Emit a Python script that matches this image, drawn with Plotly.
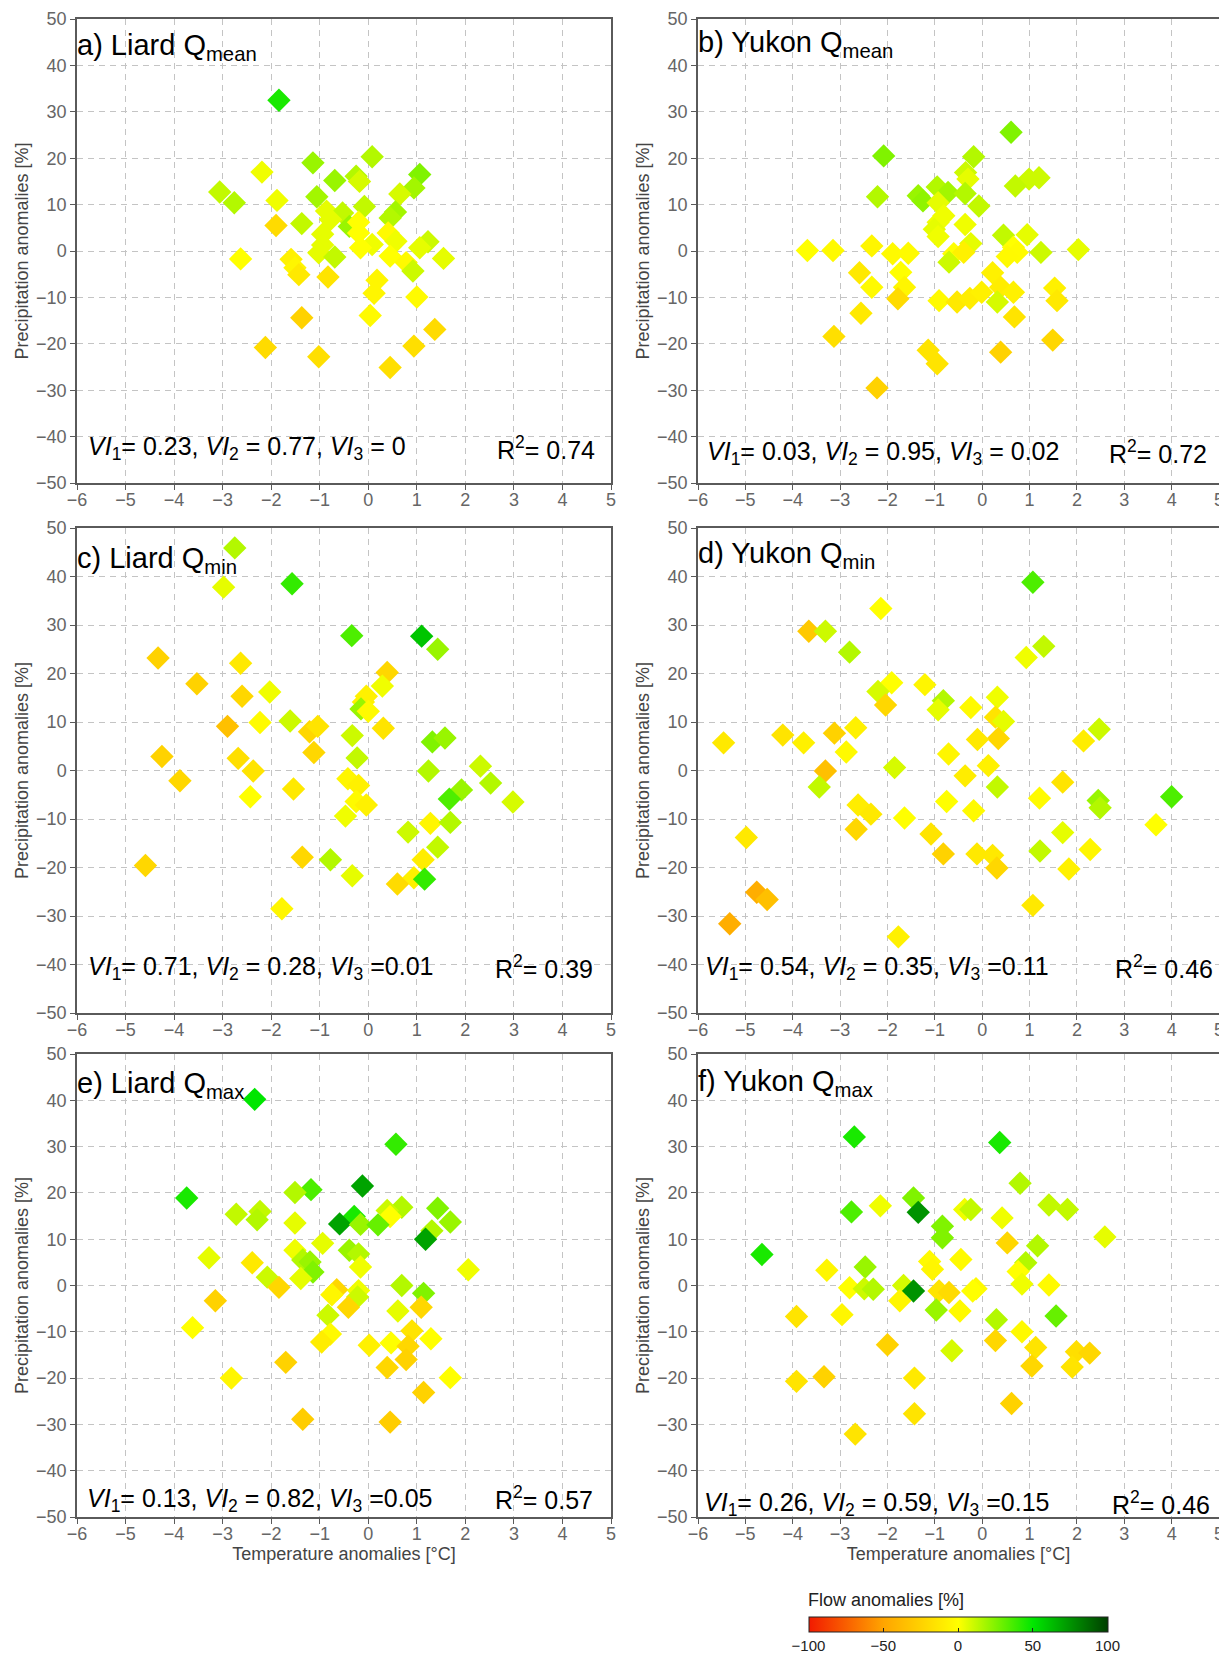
import plotly.graph_objects as go

# ---------------- data ----------------
# a) Liard Qmean
liard_mean_temp = [-1.84, 0.08, -1.14, -2.19, -0.25, 1.06, -0.69, -0.18, -3.06, 0.94, 0.65, -2.76, -1.88, -1.06,
                   -0.08, -0.86, -0.53, 0.56, 0.45, -1.90, -1.37, -0.78, -0.39, -0.20, -0.94, -0.20, 0.41, 1.23,
                   -0.94, 0.08, -0.16, 0.57, 1.06, -1.02, -0.69, -2.63, 0.45, 1.55, -1.59, 0.78, 0.92, -1.51,
                   -1.43, -0.83, 0.18, 0.12, 1.00, 0.04, -1.37, 1.37, -2.12, 0.94, -1.02, 0.45]
liard_mean_precip = [32.5, 20.3, 19.0, 17.0, 16.1, 16.5, 15.2, 15.0, 12.7, 13.6, 12.3, 10.4, 10.9, 11.7,
                     9.6, 8.6, 8.2, 8.4, 7.1, 5.5, 5.9, 6.8, 5.3, 6.2, 3.6, 3.9, 3.9, 2.0,
                     1.3, 1.4, 0.7, 2.1, 0.7, -0.4, -1.3, -1.7, -1.1, -1.6, -1.8, -2.5, -4.3, -3.6,
                     -5.1, -5.6, -6.3, -9.1, -9.9, -13.9, -14.4, -16.9, -20.8, -20.5, -22.8, -25.1]
liard_mean_flow = [45, 15, 20, 3, 15, 25, 20, 8, 12, 18, 8, 15, 3, 18,
                   12, 5, 12, 18, 15, -20, 12, 5, 20, 0, 5, 0, -3, 10,
                   5, 3, 0, 3, 5, 5, 12, 0, 0, 5, -8, -3, 10, -5,
                   -12, -15, -5, -5, -2, -3, -25, -20, -20, -18, -18, -18]

# b) Yukon Qmean
yukon_mean_temp = [0.61, -2.08, -0.18, -0.35, -0.30, 0.99, 1.20, -0.95, 0.70, -0.72, -0.36, -2.21, -1.35, -1.25,
                   -0.93, -0.07, -0.81, -0.36, -0.93, -1.01, 0.45, 0.95, -0.93, -0.24, -2.33, -3.69, -3.15, 2.03,
                   0.66, -1.89, -1.56, 0.74, 1.24, -0.60, -0.39, 0.53, -0.70, -2.59, -1.72, 0.22, -2.33, -1.64,
                   0.39, 0.66, 1.53, -1.78, -0.91, -0.53, -0.26, -0.01, 0.32, 1.58, -2.56, 0.68, -3.13, -1.14,
                   1.49, 0.39, -0.95, -2.22]
yukon_mean_precip = [25.6, 20.5, 20.3, 16.9, 15.5, 15.5, 15.8, 13.8, 14.0, 12.6, 12.4, 11.7, 11.9, 10.8,
                     10.4, 9.7, 7.6, 5.7, 6.2, 4.7, 3.4, 3.5, 3.1, 1.6, 1.1, 0.1, 0.1, 0.3,
                     0.8, -0.6, -0.5, -0.3, -0.3, -0.6, -0.3, -1.2, -2.4, -4.7, -4.6, -4.7, -7.8, -7.8,
                     -7.8, -8.9, -8.0, -10.3, -10.7, -11.0, -10.2, -8.9, -11.0, -10.7, -13.4, -14.2, -18.4, -21.4,
                     -19.2, -21.8, -24.3, -29.5]
yukon_mean_flow = [25, 25, 15, 10, 5, 10, 10, 15, 12, 18, 15, 15, 20, 22,
                   5, 12, 3, 3, 3, 5, 12, 5, 3, 5, -5, 0, -3, 5,
                   0, -3, -2, -2, 10, 0, -8, -3, 10, -12, 0, -8, -3, -5,
                   -10, -8, -8, -20, -3, -12, -10, -8, 8, -12, -12, -15, -18, -15,
                   -22, -25, -15, -25]

# c) Liard Qmin
liard_min_temp = [-2.75, -2.98, -1.57, -0.34, 1.10, 1.43, -4.33, -2.63, 0.39, -3.53, 0.29, -2.03, -2.60, -0.04,
                  -0.10, -0.15, 0.00, -2.23, -1.61, -2.90, -1.21, -1.04, 0.31, -0.33, 1.32, 1.58, -1.12, -4.25,
                  -2.68, -0.23, 2.31, -2.37, 1.24, -3.88, -0.42, 2.52, -0.20, -1.54, 1.92, -2.43, 1.67, 2.98,
                  -0.25, -0.04, -0.47, 1.28, 1.69, 0.82, 1.43, -1.36, -0.78, 1.13, -4.59, -0.33, 0.94, 1.16,
                  0.60, -1.78]
liard_min_precip = [45.9, 37.8, 38.5, 27.8, 27.7, 25.0, 23.2, 22.1, 20.2, 17.9, 17.4, 16.2, 15.3, 15.3,
                    14.1, 12.7, 12.2, 9.9, 10.2, 9.1, 8.0, 9.1, 8.7, 7.2, 5.9, 6.7, 3.7, 2.9,
                    2.5, 2.6, 0.9, -0.1, -0.1, -2.1, -1.7, -2.6, -3.1, -3.8, -4.0, -5.4, -5.9, -6.5,
                    -6.4, -7.1, -9.4, -10.9, -10.7, -12.7, -15.8, -17.9, -18.4, -18.4, -19.6, -21.7, -22.1, -22.4,
                    -23.4, -28.5]
liard_min_flow = [15, 5, 40, 35, 60, 20, -25, -12, -22, -25, 3, 3, -22, -8,
                  -8, 20, -3, -2, 10, -35, -22, -15, -15, 10, 25, 20, -22, -25,
                  -18, 12, 10, -15, 15, -22, -5, 15, -8, -12, 20, 0, 35, 8,
                  -3, -8, 3, -5, 15, 10, 12, -22, 15, -10, -22, 5, -8, 40,
                  -20, -5]

# d) Yukon Qmin
yukon_min_temp = [1.07, -2.14, -3.66, -3.31, 1.30, -2.80, 0.93, -1.91, -1.21, -2.20, 0.32, -0.82, -0.24, -0.93,
                  -2.04, 0.28, 0.45, 2.47, -2.67, -3.12, -4.21, 0.34, -0.10, 2.14, -5.46, -3.77, -2.87, -0.71,
                  -1.85, 0.13, -3.31, -0.36, 1.70, -3.44, 0.32, 4.00, 1.21, -0.75, 2.45, 2.49, -2.62, -2.35,
                  -0.18, -1.64, 3.67, -2.66, -4.98, -1.08, 1.70, 1.22, 2.28, -0.82, -0.11, 0.22, 0.31, 1.83,
                  -4.76, -4.54, -5.33, 1.07, -1.77]
yukon_min_precip = [38.8, 33.4, 28.7, 28.7, 25.6, 24.4, 23.3, 18.1, 17.7, 16.3, 15.1, 14.4, 13.0, 12.5,
                    13.5, 11.0, 10.1, 8.5, 8.8, 7.7, 7.3, 6.6, 6.4, 6.1, 5.7, 5.7, 3.8, 3.4,
                    0.6, 1.0, -0.1, -1.1, -2.4, -3.4, -3.4, -5.4, -5.7, -6.4, -6.2, -7.7, -7.1, -9.0,
                    -8.3, -9.8, -11.2, -12.1, -13.8, -13.1, -12.8, -16.6, -16.3, -17.2, -17.2, -17.5, -20.1, -20.3,
                    -25.1, -26.6, -31.6, -27.8, -34.3]
yukon_min_flow = [35, 0, -30, 10, 12, 15, 3, 0, -5, 8, 3, 15, -3, 5,
                  -22, -15, 5, 10, -8, -25, -15, -22, -12, -10, -12, -8, -3, -5,
                  8, -8, -35, -10, -15, 12, 12, 35, -2, 0, 20, 15, -10, -12,
                  -3, 0, 0, -22, -12, -15, 5, 12, -5, -25, -12, -12, -22, -8,
                  -45, -35, -45, -12, -8]

# e) Liard Qmax
liard_max_temp = [-2.34, 0.57, -0.12, -1.18, -1.51, -3.74, 1.43, 0.69, 0.39, -2.72, -2.23, -2.29, -0.29, 0.45,
                  -0.59, -1.51, 1.69, -0.16, 0.20, 1.31, 1.18, -0.94, -1.51, -0.39, -0.20, -3.28, -1.35, -1.20,
                  -2.39, -0.16, -1.14, 2.06, -2.08, -1.39, -1.84, 0.69, -0.65, -0.20, 1.14, -0.75, -0.22, -3.15,
                  -0.41, 1.09, 0.61, -0.83, -3.62, 0.90, -0.78, 1.29, -0.96, 0.02, 0.47, 0.82, 0.78, -1.70,
                  0.39, -2.82, 1.69, 1.14, -1.35, 0.45]
liard_max_precip = [40.2, 30.5, 21.5, 20.7, 20.1, 18.9, 16.7, 16.9, 16.2, 15.4, 16.0, 14.2, 14.9, 14.9,
                    13.3, 13.5, 13.7, 13.2, 13.1, 11.8, 10.0, 9.1, 7.6, 7.6, 6.8, 6.0, 5.5, 5.1,
                    4.9, 4.0, 2.9, 3.4, 1.8, 1.5, -0.4, 0.0, -0.9, -1.1, -1.7, -2.0, -2.5, -3.3,
                    -4.7, -4.7, -5.5, -6.4, -9.1, -9.8, -10.5, -11.5, -12.2, -12.9, -12.4, -13.1, -16.0, -16.6,
                    -17.7, -20.0, -19.9, -23.1, -28.9, -29.5]
liard_max_flow = [50, 40, 70, 35, 15, 45, 25, 15, 10, 12, 12, 15, 45, 0,
                  70, 5, 20, 20, 30, 15, 70, 5, 3, 20, 15, 5, 15, 20,
                  -12, 3, 25, 3, 10, 5, -22, 15, -22, 3, 25, -5, 10, -25,
                  -22, -22, 5, 10, 0, -15, -3, 0, -10, -8, 0, -22, -25, -25,
                  -22, -5, 0, -25, -28, -28]

# f) Yukon Qmax
yukon_max_temp = [-2.70, 0.37, 0.80, -1.45, -2.76, -2.15, -1.35, -0.37, -0.24, 1.41, 1.80, 0.42, -0.84, -0.84,
                  0.53, 2.59, 1.17, -4.65, -0.45, -1.11, 0.92, -2.47, -1.05, -3.28, 0.76, 1.41, 0.84, -1.66,
                  -2.80, -2.49, -2.30, -1.45, -0.91, -0.70, -0.13, -0.20, -1.74, -0.97, -0.47, 1.56, -3.92, -2.96,
                  0.30, 0.84, 0.28, -2.00, 1.13, -0.64, 1.99, 2.27, 1.05, 1.90, -3.92, -3.34, -1.43, 0.62,
                  -1.43, -2.68]
yukon_max_precip = [32.1, 30.9, 22.1, 18.9, 15.9, 17.2, 15.8, 16.4, 16.4, 17.4, 16.4, 14.6, 12.8, 10.3,
                    9.2, 10.5, 8.6, 6.7, 5.6, 5.2, 4.9, 4.0, 3.5, 3.3, 3.0, 0.1, 0.3, 0.0,
                    -0.5, -0.7, -0.8, -1.2, -1.2, -1.5, -0.7, -1.2, -3.3, -5.3, -5.5, -6.6, -6.7, -6.3,
                    -7.4, -10.0, -11.9, -12.8, -13.4, -14.1, -14.3, -14.6, -17.4, -17.6, -20.7, -19.7, -20.0, -25.5,
                    -27.7, -32.1]
yukon_max_flow = [45, 45, 15, 25, 35, 3, 75, 3, 12, 12, 12, 3, 25, 25,
                  -22, 5, 15, 45, -3, -3, 15, 20, -5, -5, 0, -3, 3, 8,
                  0, 10, 15, 75, -15, -20, -3, 0, -5, 20, -3, 30, -15, -5,
                  15, -3, -22, -25, -15, 8, -18, -22, -22, -15, -15, -25, -12, -25,
                  -15, -15]

panel_titles = ["a) Liard Q<sub>mean</sub>", "b) Yukon Q<sub>mean</sub>",
                "c) Liard Q<sub>min</sub>", "d) Yukon Q<sub>min</sub>",
                "e) Liard Q<sub>max</sub>", "f) Yukon Q<sub>max</sub>"]
vi_values = [("0.23", "0.77", " 0"), ("0.03", "0.95", " 0.02"),
             ("0.71", "0.28", "0.01"), ("0.54", "0.35", "0.11"),
             ("0.13", "0.82", "0.05"), ("0.26", "0.59", "0.15")]
r2_values = ["0.74", "0.72", "0.39", "0.46", "0.57", "0.46"]
flow_ticks = [-100, -50, 0, 50, 100]

panels = [
    (liard_mean_temp, liard_mean_precip, liard_mean_flow),
    (yukon_mean_temp, yukon_mean_precip, yukon_mean_flow),
    (liard_min_temp, liard_min_precip, liard_min_flow),
    (yukon_min_temp, yukon_min_precip, yukon_min_flow),
    (liard_max_temp, liard_max_precip, liard_max_flow),
    (yukon_max_temp, yukon_max_precip, yukon_max_flow),
]

# ---------------- layout geometry ----------------
# the page body adds an 8 px margin, so positions are measured 8 px earlier
W, H = 1227, 1657
OFF = 8
col_px = [(77 - OFF, 611 - OFF), (698 - OFF, 1219 - OFF)]
row_px = [(19 - OFF, 483 - OFF), (528 - OFF, 1013 - OFF), (1054 - OFF, 1517 - OFF)]

def xdom(c):
    return [col_px[c][0] / W, col_px[c][1] / W]

def ydom(r):
    return [1 - row_px[r][1] / H, 1 - row_px[r][0] / H]

FONT = "Liberation Sans, Arial, sans-serif"
colorscale = [[0.0, "#F21A00"], [0.25, "#FFA500"], [0.5, "#FFFF00"],
              [0.75, "#00E600"], [1.0, "#003F00"]]

fig = go.Figure()
annotations = []
vi_y = [-41.8, -42.9, -40.1, -40.1, -45.7, -46.6]
r2_y = [-42.5, -43.3, -40.5, -40.5, -45.9, -47.0]
vi_dx = [9, 7, 9, 5, 8, 4]
r2_dx = [-14, -10, -16, -4, -16, -7]
title_dy = [-8, -5, -12, -7, -11, -9]

for i, (tx, py, fl) in enumerate(panels):
    r, c = divmod(i, 2)
    n = "" if i == 0 else str(i + 1)
    fig.add_trace(go.Scatter(
        x=tx, y=py, mode="markers",
        marker=dict(symbol="diamond", size=18, color=fl, coloraxis="coloraxis",
                    line=dict(width=0)),
        xaxis="x" + n, yaxis="y" + n, showlegend=False,
        hovertemplate="T=%{x}<br>P=%{y}<br>Q=%{marker.color}<extra></extra>"))

    common = dict(showgrid=True, gridcolor="#C4C4C4", griddash="6px,5px", gridwidth=1,
                  zeroline=False, showline=True, linecolor="#5A5A5A", linewidth=1.5,
                  mirror=True, ticks="outside", ticklen=5, tickcolor="#5A5A5A",
                  automargin=False,
                  tickfont=dict(family=FONT, size=18, color="#666666"))
    xa = dict(common, domain=xdom(c), range=[-6, 5], tick0=-6, dtick=1,
              anchor="y" + n, ticklabelstandoff=-5)
    if r == 2:
        xa["title"] = dict(text="Temperature anomalies [°C]",
                           font=dict(family=FONT, size=18, color="#444444"), standoff=0)
    ya = dict(common, domain=ydom(r), range=[-50, 50], tick0=-50, dtick=10,
              anchor="x" + n,
              title=dict(text="Precipitation anomalies [%]",
                         font=dict(family=FONT, size=18, color="#444444"), standoff=3))
    fig.update_layout(**{"xaxis" + n: xa, "yaxis" + n: ya})

    xr = "x" + n + " domain"
    yr = "y" + n + " domain"
    annotations.append(dict(text=panel_titles[i], xref=xr, yref=yr, x=0, y=1,
                            xanchor="left", yanchor="top", yshift=title_dy[i], xshift=-2,
                            showarrow=False, font=dict(family=FONT, size=29, color="black")))
    v1, v2, v3 = vi_values[i]
    vi_text = (f"<i>VI</i><sub>1</sub>= {v1}, <i>VI</i><sub>2</sub> = {v2}, "
               f"<i>VI</i><sub>3</sub> ={v3}")
    annotations.append(dict(text=vi_text, xref=xr, yref="y" + n, x=0, y=vi_y[i],
                            xanchor="left", yanchor="middle", xshift=vi_dx[i], yshift=-3,
                            showarrow=False, font=dict(family=FONT, size=25, color="black")))
    annotations.append(dict(text=f"R<sup>2</sup>= {r2_values[i]}", xref=xr, yref="y" + n,
                            x=1, y=r2_y[i], xanchor="right", yanchor="middle",
                            xshift=r2_dx[i], showarrow=False,
                            font=dict(family=FONT, size=25, color="black")))

# colour-bar title as a left-aligned text above the bar
annotations.append(dict(text="Flow anomalies [%]", xref="paper", yref="paper",
                        x=(806 - OFF) / W, y=1 - (1600 - OFF) / H, xanchor="left", yanchor="middle",
                        showarrow=False, font=dict(family=FONT, size=18, color="#222222")))

fig.update_layout(
    width=W, height=H, margin=dict(l=0, r=0, t=0, b=0),
    paper_bgcolor="white", plot_bgcolor="white",
    font=dict(family=FONT),
    annotations=annotations,
    coloraxis=dict(
        cmin=-100, cmax=100, colorscale=colorscale,
        colorbar=dict(
            orientation="h", x=(958 - OFF) / W, xanchor="center", y=1 - (1617 - OFF) / H,
            yanchor="top",
            len=299 / W, lenmode="fraction", thickness=15, thicknessmode="pixels",
            outlinecolor="#222222", outlinewidth=1,
            tickvals=flow_ticks, ticks="inside", ticklen=4, tickcolor="#222222",
            tickfont=dict(family=FONT, size=15, color="#222222"),
            xpad=0, ypad=0,
        ),
    ),
)

fig.write_html("out.html")
